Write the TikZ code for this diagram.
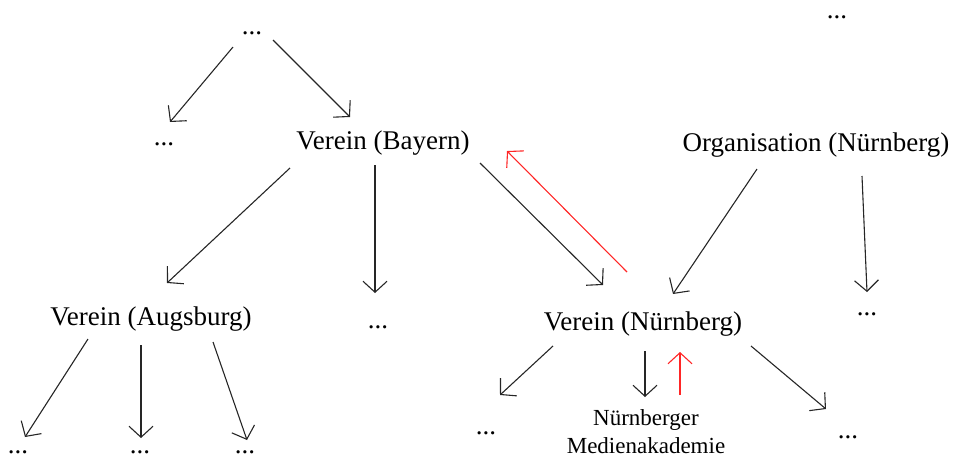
\documentclass[tikz,border=0pt]{standalone}
\usepackage{fontspec}
\setmainfont{Liberation Serif}
\usetikzlibrary{arrows.meta}
\tikzset{
  lbl/.style={inner sep=0pt, font=\fontsize{13.5}{16}\selectfont},
  small/.style={inner sep=0pt, align=center, font=\fontsize{11.5}{14}\selectfont},
  dots/.style={inner sep=0pt, font=\fontsize{13.5}{16}\selectfont},
  arr/.style={draw=black!85, line width=0.55pt, -{Straight Barb[length=5.5pt,width=12pt]}},
  redarr/.style={draw=red!85!white, line width=0.55pt, -{Straight Barb[length=5.5pt,width=12pt]}}
}
\begin{document}
\begin{tikzpicture}[x=0.5pt,y=-0.5pt]
\useasboundingbox (0,0) rectangle (953,457);
% nodes
\node[dots] (top) at (252,33) {...};
\node[dots] (topr) at (837,17) {...};
\node[dots] (ld) at (164,144) {...};
\node[lbl] (bay) at (383,143) {Verein (Bayern)};
\node[lbl] (org) at (816,145) {Organisation (Nürnberg)};
\node[lbl] (aug) at (151,319) {Verein (Augsburg)};
\node[dots] (md) at (378,327) {...};
\node[lbl] (nur) at (643,324) {Verein (Nürnberg)};
\node[dots] (rd) at (867,314) {...};
\node[dots] (b1) at (18,452) {...};
\node[dots] (b2) at (140,452) {...};
\node[dots] (b3) at (245,452) {...};
\node[dots] (b4) at (486,433) {...};
\node[small] (med) at (646,432) {Nürnberger\\Medienakademie};
\node[dots] (b5) at (848,437) {...};
% connectors
\draw[arr] ([shift={(-19,14)}]top.center) -- ([shift={(6,-22)}]ld.center);
\draw[arr] ([shift={(21,7)}]top.center) -- ([shift={(-33,-26)}]bay.center);
\draw[arr] ([shift={(-93,25)}]bay.center) -- ([shift={(16,-36)}]aug.center);
\draw[arr] ([shift={(-8,22)}]bay.center) -- ([shift={(-3,-34)}]md.center);
\draw[arr] ([shift={(97,20)}]bay.center) -- ([shift={(-40,-39)}]nur.center);
\draw[redarr] ([shift={(-16,-52)}]nur.center) -- ([shift={(124,8)}]bay.center);
\draw[arr] ([shift={(-59,24)}]org.center) -- ([shift={(30,-30)}]nur.center);
\draw[arr] ([shift={(46,31)}]org.center) -- ([shift={(0,-22)}]rd.center);
\draw[arr] ([shift={(-63,20)}]aug.center) -- ([shift={(7,-15)}]b1.center);
\draw[arr] ([shift={(-10,26)}]aug.center) -- ([shift={(1,-14)}]b2.center);
\draw[arr] ([shift={(62,23)}]aug.center) -- ([shift={(2,-12)}]b3.center);
\draw[arr] ([shift={(-90,22)}]nur.center) -- ([shift={(14,-38)}]b4.center);
\draw[arr] ([shift={(2,27)}]nur.center) -- ([shift={(-1,-35)}]med.center);
\draw[redarr] ([shift={(34,-37)}]med.center) -- ([shift={(37,28)}]nur.center);
\draw[arr] ([shift={(108,22)}]nur.center) -- ([shift={(-22,-28)}]b5.center);
\end{tikzpicture}
\end{document}
